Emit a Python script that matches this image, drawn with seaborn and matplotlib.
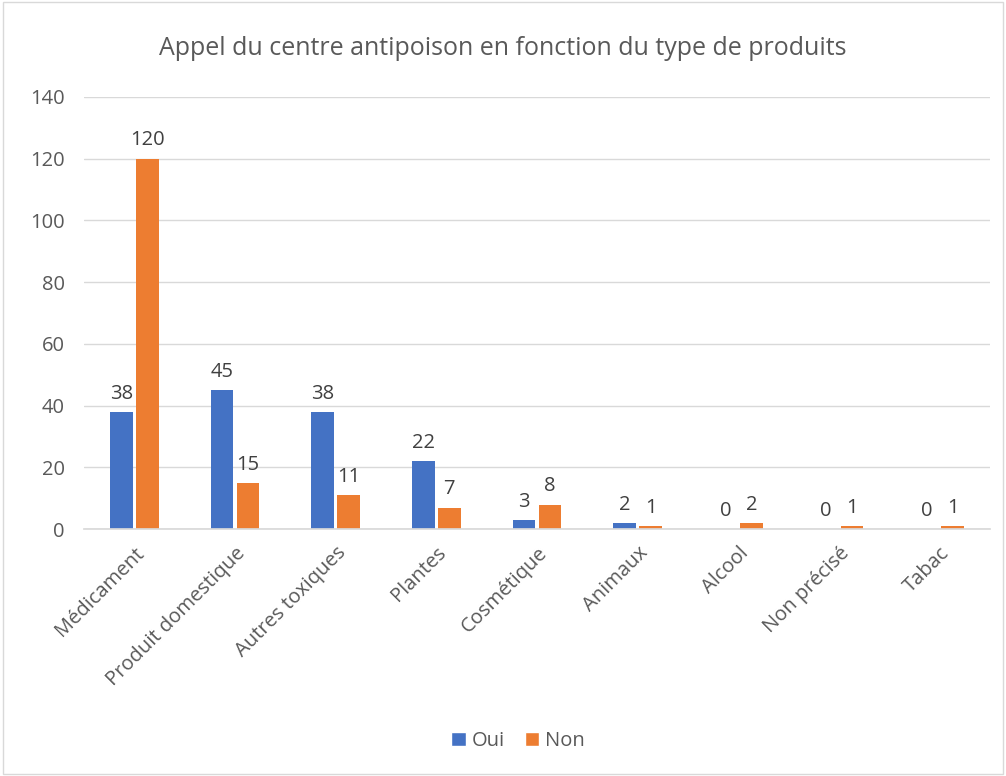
import matplotlib
matplotlib.use("Agg")
import matplotlib.pyplot as plt
import seaborn as sns
import pandas as pd
from matplotlib.patches import Patch

categories = ["Médicament", "Produit domestique", "Autres toxiques", "Plantes",
              "Cosmétique", "Animaux", "Alcool", "Non précisé", "Tabac"]
oui = [38, 45, 38, 22, 3, 2, 0, 0, 0]
non = [120, 15, 11, 7, 8, 1, 2, 1, 1]
series = ["Oui", "Non"]
colors = ["#4472C4", "#ED7D31"]
yticks = [0, 20, 40, 60, 80, 100, 120, 140]

df = pd.DataFrame({
    "cat": categories * 2,
    "val": oui + non,
    "serie": [series[0]] * len(categories) + [series[1]] * len(categories),
})

sns.set_theme(style="white")
plt.rcParams["font.family"] = ["Open Sans", "DejaVu Sans"]
txt = "#595959"

fig = plt.figure(figsize=(10.06, 7.76), dpi=100)
ax = fig.add_axes([0.0835, 0.318, 0.9006, 0.557])
sns.barplot(data=df, x="cat", y="val", hue="serie", palette=colors,
            width=0.516, gap=0.116, ax=ax, legend=False, saturation=1,
            linewidth=0, edgecolor="none")

ax.set_ylim(0, 140)
ax.set_yticks(yticks)
ax.set_yticklabels([str(v) for v in yticks], fontsize=14.5, color=txt)
ax.set_xlim(-0.5, len(categories) - 0.5)
ax.set_xticks(range(len(categories)))
ax.set_xticklabels(categories, rotation=45, ha="right", rotation_mode="anchor",
                   fontsize=14.5, color=txt)
ax.tick_params(axis="x", pad=10, length=0)
ax.tick_params(axis="y", length=0, pad=14)
ax.yaxis.grid(True, color="#D9D9D9", linewidth=1)
ax.set_axisbelow(True)
for s in ["top", "right", "left"]:
    ax.spines[s].set_visible(False)
ax.spines["bottom"].set_color("#D9D9D9")
ax.set_xlabel("")
ax.set_ylabel("")

for cont in ax.containers:
    ax.bar_label(cont, fmt="%d", padding=6, fontsize=14.5, color="#404040")

fig.text(0.5, 0.938, "Appel du centre antipoison en fonction du type de produits",
         ha="center", va="center", fontsize=18, color=txt)

handles = [Patch(facecolor=c, label=s) for c, s in zip(colors, series)]
fig.legend(handles=handles, loc="center", bbox_to_anchor=(0.515, 0.045), ncol=2,
           frameon=False, fontsize=14.5, handlelength=0.7, handleheight=0.7,
           handletextpad=0.3, columnspacing=1.0, labelcolor=txt)

border = plt.Rectangle((0.003, 0.003), 0.994, 0.994, transform=fig.transFigure,
                       fill=False, edgecolor="#D9D9D9", linewidth=1)
fig.patches.append(border)

fig.savefig("out.png", dpi=100)
